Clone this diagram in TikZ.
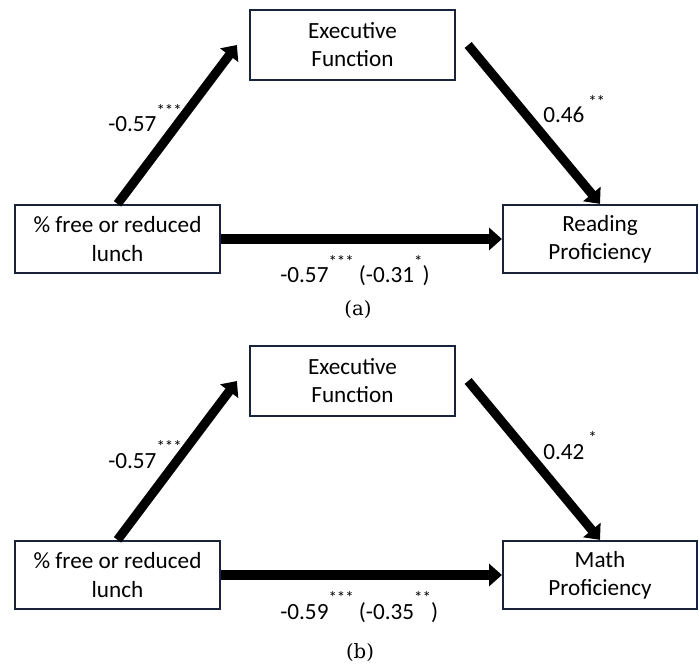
\documentclass[tikz,border=0pt]{standalone}
\usepackage{fontspec}
\setmainfont{Carlito}
\newfontfamily\capfont{DejaVu Serif}
\usetikzlibrary{arrows.meta,positioning}
\definecolor{boxedge}{RGB}{25,35,60}
\newcommand{\sig}[1]{\raisebox{11pt}{\fontsize{12}{14}\selectfont #1}}

\begin{document}
\begin{tikzpicture}[
    every node/.style={font=\fontsize{16.5}{20}\selectfont},
    var/.style={draw=boxedge, line width=1.6pt, fill=white, align=center, inner sep=0pt, minimum height=1.7cm},
    effect/.style={line width=6.5pt, -{Triangle[length=0.32cm, width=0.55cm]}},
    coef/.style={anchor=base west, inner sep=0pt},
    caption/.style={font=\capfont\fontsize{14}{16}\selectfont}
]
    \useasboundingbox (0,0) rectangle (17.475,16.6);

    % (a) Reading
    \node[var, minimum width=5.125cm, minimum height=1.75cm] (exec1) at (8.8125,15.475) {Executive\\Function};
    \node[var, minimum width=5.125cm] (lunch1) at (2.9375,10.625) {\% free or reduced\\lunch};
    \node[var, minimum width=4.85cm] (read1) at (15.0,10.625) {Reading\\Proficiency};
    \coordinate (in1) at ([xshift=-0.3cm]exec1.west);
    \coordinate (out1) at ([xshift=0.3cm]exec1.east);
    \draw[effect] (lunch1.north) -- (in1);
    \draw[effect] (out1) -- (read1.north);
    \draw[effect] (lunch1.east) -- (read1.west);
    \node[coef] (a1) at (2.7,13.3) {-0.57\sig{***}};
    \node[coef] (b1) at (13.575,13.525) {0.46\,\sig{**}};
    \node[coef] (c1) at (7.0,9.525) {-0.57\sig{***} (-0.31\sig{*})};
    \node[caption] (capa) at (8.95,8.85) {(a)};

    % (b) Math
    \node[var, minimum width=5.125cm, minimum height=1.75cm] (exec2) at (8.8125,7.075) {Executive\\Function};
    \node[var, minimum width=5.125cm] (lunch2) at (2.9375,2.225) {\% free or reduced\\lunch};
    \node[var, minimum width=4.85cm] (math2) at (15.0,2.225) {Math\\Proficiency};
    \coordinate (in2) at ([xshift=-0.3cm]exec2.west);
    \coordinate (out2) at ([xshift=0.3cm]exec2.east);
    \draw[effect] (lunch2.north) -- (in2);
    \draw[effect] (out2) -- (math2.north);
    \draw[effect] (lunch2.east) -- (math2.west);
    \node[coef] (a2) at (2.7,4.9) {-0.57\sig{***}};
    \node[coef] (b2) at (13.575,5.125) {0.42\,\sig{*}};
    \node[coef] (c2) at (7.0,1.125) {-0.59\sig{***} (-0.35\sig{**})};
    \node[caption] (capb) at (9.0,0.275) {(b)};
\end{tikzpicture}
\end{document}
